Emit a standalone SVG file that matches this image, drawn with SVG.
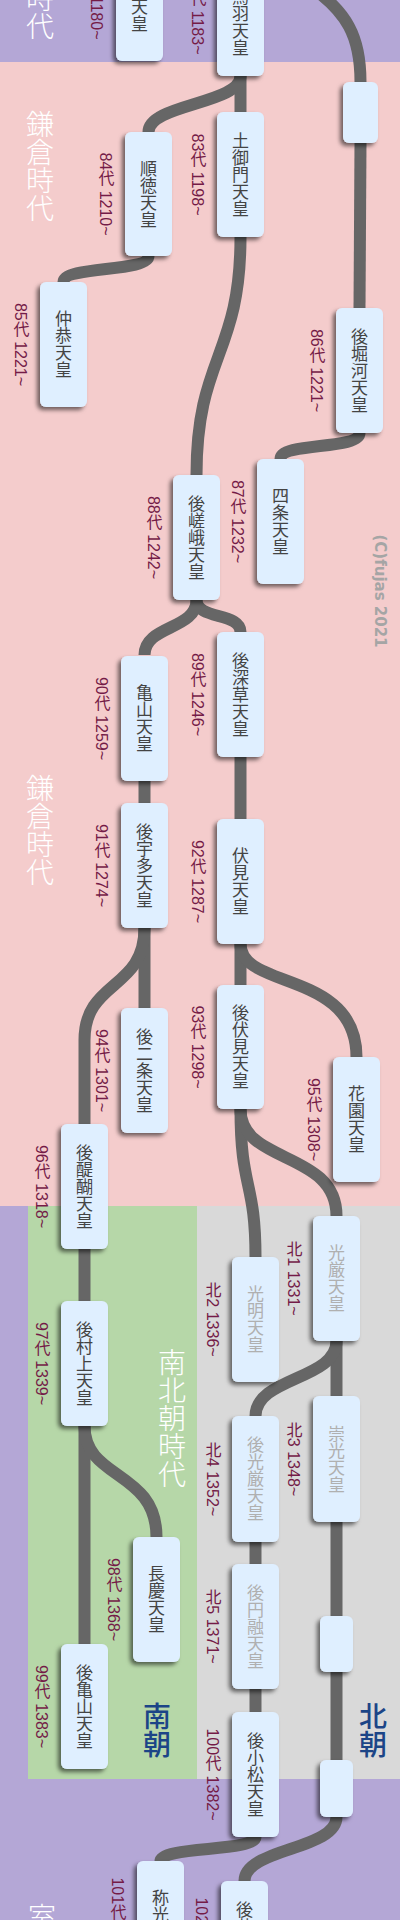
<svg xmlns="http://www.w3.org/2000/svg" width="400" height="1920" viewBox="0 0 400 1920">
<defs>
<filter id="sh" x="-30%" y="-20%" width="160%" height="140%">
<feDropShadow dx="-3" dy="3" stdDeviation="2" flood-color="#000" flood-opacity="0.55"/>
</filter>
<style>
.nd{fill:#dfefff;filter:url(#sh)}
.nm{font-family:"Noto Sans CJK JP",sans-serif;font-size:17px;writing-mode:vertical-rl;text-anchor:middle;fill:#444}
.nm.n{fill:#b0b0b0}
.lb{font-family:"Liberation Sans","Noto Sans CJK JP",sans-serif;font-size:16px;writing-mode:vertical-rl;text-anchor:middle;fill:#741b47}
.era{font-family:"Noto Sans CJK JP",sans-serif;font-size:28px;font-weight:300;writing-mode:vertical-rl;fill:#fff}
.ct{font-family:"Noto Sans CJK JP",sans-serif;font-size:28px;font-weight:500;writing-mode:vertical-rl;text-anchor:middle;fill:#1c4587}
.cp{font-family:"DejaVu Sans",sans-serif;font-size:15px;font-weight:bold;writing-mode:vertical-rl;text-anchor:middle;fill:#a5a5a5}
#conn path{fill:none;stroke:#666;stroke-width:12}
</style>
</defs>
<g id="bg">
<rect x="0" y="0" width="400" height="62" fill="#b4a7d6"/>
<rect x="0" y="62" width="400" height="1144" fill="#f4cccc"/>
<rect x="0" y="1206" width="400" height="714" fill="#b4a7d6"/>
<rect x="28" y="1206" width="169" height="573" fill="#b6d7a8"/>
<rect x="197" y="1206" width="203" height="573" fill="#d9d9d9"/>
</g>
<g id="eras">
<text class="era" x="40" y="40" text-anchor="end">平安時代</text>
<text class="era" x="40" y="166" text-anchor="middle">鎌倉時代</text>
<text class="era" x="40" y="830" text-anchor="middle">鎌倉時代</text>
<text class="era" x="172" y="1418" text-anchor="middle">南北朝時代</text>
<text class="era" x="42" y="1903" text-anchor="start">室町時代</text>
<text class="ct" x="157" y="1730">南朝</text>
<text class="ct" x="373" y="1730">北朝</text>
<text class="cp" x="380" y="591">(C)fujas 2021</text>
</g>
<g id="conn">
<path d="M300 -20 C350 10 360.5 40 360.5 82"/>
<path d="M360.5 143 L359.5 308"/>
<path d="M240.5 76 L240.5 112"/>
<path d="M240.5 76 C240.5 104 148.5 104 148.5 132"/>
<path d="M148.5 256 C148.5 272 63.5 266 63.5 282"/>
<path d="M240.5 237 C240.5 356 196.5 356 196.5 475"/>
<path d="M359.5 433 C359.5 450 280.5 442 280.5 459"/>
<path d="M196.5 600 C196.5 620 240.5 612 240.5 632"/>
<path d="M196.5 600 C196.5 630 144.5 625 144.5 655"/>
<path d="M144.5 781 L144.5 803"/>
<path d="M240.5 757 L240.5 819"/>
<path d="M144.5 928 L144.5 1008"/>
<path d="M144.5 928 C144.5 990 84.5 980 84.5 1040 L84.5 1124"/>
<path d="M240.5 944 L240.5 985"/>
<path d="M240.5 944 C240.5 990 356.5 970 356.5 1057"/>
<path d="M240.5 1109 C240.5 1190 255.5 1180 255.5 1257"/>
<path d="M240.5 1109 C240.5 1165 336.5 1150 336.5 1216"/>
<path d="M84.5 1249 L84.5 1301"/>
<path d="M84.5 1426 L84.5 1644"/>
<path d="M84.5 1426 C84.5 1480 156.5 1470 156.5 1537"/>
<path d="M336.5 1341 L336.5 1396"/>
<path d="M336.5 1341 C336.5 1380 255.5 1377 255.5 1416"/>
<path d="M255.5 1542 L255.5 1564"/>
<path d="M336.5 1522 L336.5 1616"/>
<path d="M255.5 1689 L255.5 1712"/>
<path d="M336.5 1672 L336.5 1760"/>
<path d="M255.5 1837 C255.5 1852 160.5 1846 160.5 1861"/>
<path d="M336.5 1817 C336.5 1850 244.5 1848 244.5 1881"/>
</g>
<g id="n81"><rect class="nd" x="116" y="-64" width="47" height="125" rx="6"/><text class="nm" x="139.5" y="-1.5">安徳天皇</text><text class="lb" x="96" y="-1.5">81代 1180~</text></g>
<g id="n82"><rect class="nd" x="217" y="-49" width="47" height="125" rx="6"/><text class="nm" x="240.5" y="13.5">後鳥羽天皇</text><text class="lb" x="197" y="13.5">82代 1183~</text></g>
<g id="n83"><rect class="nd" x="217" y="112" width="47" height="125" rx="6"/><text class="nm" x="240.5" y="174.5">土御門天皇</text><text class="lb" x="197" y="174.5">83代 1198~</text></g>
<g id="n84"><rect class="nd" x="125" y="132" width="47" height="124" rx="6"/><text class="nm" x="148.5" y="194">順徳天皇</text><text class="lb" x="105" y="194">84代 1210~</text></g>
<g id="n85"><rect class="nd" x="40" y="282" width="47" height="125" rx="6"/><text class="nm" x="63.5" y="344.5">仲恭天皇</text><text class="lb" x="20" y="344.5">85代 1221~</text></g>
<g id="n86"><rect class="nd" x="336" y="308" width="47" height="125" rx="6"/><text class="nm" x="359.5" y="370.5">後堀河天皇</text><text class="lb" x="316" y="370.5">86代 1221~</text></g>
<g id="n87"><rect class="nd" x="257" y="459" width="47" height="125" rx="6"/><text class="nm" x="280.5" y="521.5">四条天皇</text><text class="lb" x="237" y="521.5">87代 1232~</text></g>
<g id="n88"><rect class="nd" x="173" y="475" width="47" height="125" rx="6"/><text class="nm" x="196.5" y="537.5">後嵯峨天皇</text><text class="lb" x="153" y="537.5">88代 1242~</text></g>
<g id="n89"><rect class="nd" x="217" y="632" width="47" height="125" rx="6"/><text class="nm" x="240.5" y="694.5">後深草天皇</text><text class="lb" x="197" y="694.5">89代 1246~</text></g>
<g id="n90"><rect class="nd" x="121" y="656" width="47" height="125" rx="6"/><text class="nm" x="144.5" y="718.5">亀山天皇</text><text class="lb" x="101" y="718.5">90代 1259~</text></g>
<g id="n91"><rect class="nd" x="121" y="803" width="47" height="125" rx="6"/><text class="nm" x="144.5" y="865.5">後宇多天皇</text><text class="lb" x="101" y="865.5">91代 1274~</text></g>
<g id="n92"><rect class="nd" x="217" y="819" width="47" height="125" rx="6"/><text class="nm" x="240.5" y="881.5">伏見天皇</text><text class="lb" x="197" y="881.5">92代 1287~</text></g>
<g id="n93"><rect class="nd" x="217" y="985" width="47" height="124" rx="6"/><text class="nm" x="240.5" y="1047">後伏見天皇</text><text class="lb" x="197" y="1047">93代 1298~</text></g>
<g id="n94"><rect class="nd" x="121" y="1008" width="47" height="125" rx="6"/><text class="nm" x="144.5" y="1070.5">後二条天皇</text><text class="lb" x="101" y="1070.5">94代 1301~</text></g>
<g id="n95"><rect class="nd" x="333" y="1057" width="47" height="125" rx="6"/><text class="nm" x="356.5" y="1119.5">花園天皇</text><text class="lb" x="313" y="1119.5">95代 1308~</text></g>
<g id="n96"><rect class="nd" x="61" y="1124" width="47" height="125" rx="6"/><text class="nm" x="84.5" y="1186.5">後醍醐天皇</text><text class="lb" x="41" y="1186.5">96代 1318~</text></g>
<g id="nN1"><rect class="nd" x="313" y="1216" width="47" height="125" rx="6"/><text class="nm n" x="336.5" y="1278.5">光厳天皇</text><text class="lb" x="293" y="1278.5">北1 1331~</text></g>
<g id="nN2"><rect class="nd" x="232" y="1257" width="47" height="125" rx="6"/><text class="nm n" x="255.5" y="1319.5">光明天皇</text><text class="lb" x="212" y="1319.5">北2 1336~</text></g>
<g id="n97"><rect class="nd" x="61" y="1301" width="47" height="125" rx="6"/><text class="nm" x="84.5" y="1363.5">後村上天皇</text><text class="lb" x="41" y="1363.5">97代 1339~</text></g>
<g id="nN3"><rect class="nd" x="313" y="1396" width="47" height="126" rx="6"/><text class="nm n" x="336.5" y="1459">崇光天皇</text><text class="lb" x="293" y="1459">北3 1348~</text></g>
<g id="nN4"><rect class="nd" x="232" y="1416" width="47" height="126" rx="6"/><text class="nm n" x="255.5" y="1479">後光厳天皇</text><text class="lb" x="212" y="1479">北4 1352~</text></g>
<g id="n98"><rect class="nd" x="133" y="1537" width="47" height="125" rx="6"/><text class="nm" x="156.5" y="1599.5">長慶天皇</text><text class="lb" x="113" y="1599.5">98代 1368~</text></g>
<g id="nN5"><rect class="nd" x="232" y="1564" width="47" height="125" rx="6"/><text class="nm n" x="255.5" y="1626.5">後円融天皇</text><text class="lb" x="212" y="1626.5">北5 1371~</text></g>
<g id="n99"><rect class="nd" x="61" y="1644" width="47" height="125" rx="6"/><text class="nm" x="84.5" y="1706.5">後亀山天皇</text><text class="lb" x="41" y="1706.5">99代 1383~</text></g>
<g id="n100"><rect class="nd" x="232" y="1712" width="47" height="125" rx="6"/><text class="nm" x="255.5" y="1774.5">後小松天皇</text><text class="lb" x="212" y="1774.5">100代 1382~</text></g>
<g id="n101"><rect class="nd" x="137" y="1861" width="47" height="125" rx="6"/><text class="nm" x="160.5" y="1923.5">称光天皇</text><text class="lb" x="117" y="1923.5">101代 1412~</text></g>
<g id="n102"><rect class="nd" x="221" y="1881" width="47" height="125" rx="6"/><text class="nm" x="244.5" y="1943.5">後花園天皇</text><text class="lb" x="201" y="1943.5">102代 1428~</text></g>
<g id="sA"><rect class="nd" x="343" y="82" width="35" height="61" rx="6"/></g>
<g id="sB"><rect class="nd" x="320" y="1616" width="33" height="56" rx="6"/></g>
<g id="sC"><rect class="nd" x="320" y="1760" width="33" height="57" rx="6"/></g>
</svg>
